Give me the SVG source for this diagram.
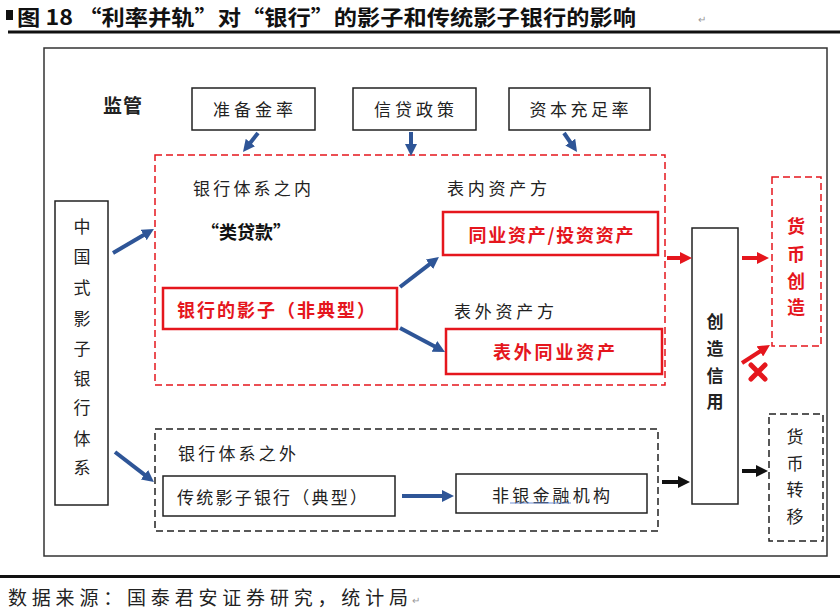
<svg xmlns="http://www.w3.org/2000/svg" width="840" height="612" viewBox="0 0 840 612">
<style>
text{font-family:"Noto Sans CJK SC","Noto Sans",sans-serif;dominant-baseline:central;}
.t{font-size:17px;fill:#222;}
.b{font-weight:bold;}
.red{fill:#E5161D;font-weight:bold;font-size:18px;}
.box{fill:#fff;stroke:#222;stroke-width:1.5;}
.rbox{fill:#fff;stroke:#E5161D;stroke-width:2.5;}
.rdash{fill:none;stroke:#E5161D;stroke-width:1.5;stroke-dasharray:7 4;}
.kdash{fill:none;stroke:#222;stroke-width:1.5;stroke-dasharray:7 4;}
.blue{stroke:#2E5597;stroke-width:4;fill:none;marker-end:url(#ab);}
.redl{stroke:#E5161D;stroke-width:4;fill:none;marker-end:url(#ar);}
.blk{stroke:#111;stroke-width:4;fill:none;marker-end:url(#ak);}
.mc{text-anchor:middle;}
</style>
<defs>
<marker id="ab" viewBox="0 0 10 10" markerUnits="userSpaceOnUse" markerWidth="12" markerHeight="12" refX="3" refY="5" orient="auto"><path d="M0,0 L10,5 L0,10 z" fill="#2E5597"/></marker>
<marker id="ar" viewBox="0 0 10 10" markerUnits="userSpaceOnUse" markerWidth="12" markerHeight="12" refX="3" refY="5" orient="auto"><path d="M0,0 L10,5 L0,10 z" fill="#E5161D"/></marker>
<marker id="ak" viewBox="0 0 10 10" markerUnits="userSpaceOnUse" markerWidth="12" markerHeight="12" refX="3" refY="5" orient="auto"><path d="M0,0 L10,5 L0,10 z" fill="#111"/></marker>
</defs>
<rect width="840" height="612" fill="#fff"/>
<!-- title -->
<rect x="6" y="10" width="7" height="10" fill="#111"/>
<text x="17" y="16" class="b" font-size="21" fill="#111" textLength="619" lengthAdjust="spacingAndGlyphs">图 18 “利率并轨”对“银行”的影子和传统影子银行的影响</text>
<text x="698" y="18" font-size="10" fill="#999">↵</text>
<rect x="8" y="30.5" width="832" height="3" fill="#111"/>
<!-- outer frame -->
<rect x="44" y="48" width="783" height="508" fill="none" stroke="#333" stroke-width="1.5"/>
<!-- regulators -->
<g id="jianguan"><text x="103" y="104" class="b" font-size="19" fill="#222" textLength="39">监管</text></g>
<g id="zhunbeijin"><rect class="box" x="192" y="88" width="123" height="42"/><text class="t mc" x="253" y="108" textLength="80">准备金率</text></g>
<g id="xindai"><rect class="box" x="353" y="88" width="123" height="42"/><text class="t mc" x="414" y="108" textLength="80">信贷政策</text></g>
<g id="ziben"><rect class="box" x="509" y="88" width="141" height="42"/><text class="t mc" x="579" y="108" textLength="99">资本充足率</text></g>
<!-- inside banking -->
<g id="inside"><rect class="rdash" x="155" y="155" width="510" height="230"/>
<text class="t" x="193" y="187" textLength="118">银行体系之内</text>
<text class="t" x="447" y="187" textLength="100">表内资产方</text>
<text class="t" x="454" y="310" textLength="100">表外资产方</text>
<text x="201" y="231" class="b" font-size="18" fill="#111">“类贷款”</text></g>
<g id="tongye"><rect class="rbox" x="443" y="212" width="215" height="43"/><text class="red mc" x="551" y="234" textLength="165">同业资产/投资资产</text></g>
<g id="yingzi"><rect class="rbox" x="163" y="288" width="234" height="41"/><text class="red mc" x="276" y="309" textLength="198">银行的影子（非典型）</text></g>
<g id="biaowai"><rect class="rbox" x="446" y="329" width="216" height="45"/><text class="red mc" x="554" y="351" textLength="122">表外同业资产</text></g>
<!-- left -->
<g id="zhongguo"><rect class="box" x="55" y="201" width="53" height="304"/>
<text class="t mc" x="82" y="225">中</text><text class="t mc" x="82" y="255">国</text><text class="t mc" x="82" y="286">式</text><text class="t mc" x="82" y="317">影</text><text class="t mc" x="82" y="347">子</text><text class="t mc" x="82" y="377">银</text><text class="t mc" x="82" y="406">行</text><text class="t mc" x="82" y="437">体</text><text class="t mc" x="82" y="466">系</text></g>
<!-- outside banking -->
<g id="outside"><rect class="kdash" x="155" y="429" width="503" height="102"/>
<text class="t" x="178" y="452" textLength="118">银行体系之外</text></g>
<g id="chuantong"><rect class="box" x="163" y="476" width="232" height="40"/><text class="t" x="177" y="496" textLength="190">传统影子银行（典型）</text></g>
<g id="feiyin"><rect class="box" x="456" y="474" width="191" height="39"/><text class="t mc" x="551" y="494" textLength="118">非银金融机构</text><line x1="510" y1="503" x2="571" y2="503" stroke="#6f8fd6" stroke-width="1.2"/></g>
<!-- credit -->
<g id="chuangzao"><rect class="box" x="692" y="228" width="46" height="276"/>
<text class="t b mc" x="715" y="320" font-size="18">创</text><text class="t b mc" x="715" y="347" font-size="18">造</text><text class="t b mc" x="715" y="374" font-size="18">信</text><text class="t b mc" x="715" y="400" font-size="18">用</text></g>
<g id="huobichuangzao"><rect class="rdash" x="772" y="177" width="49" height="169"/>
<text class="red mc" x="796" y="225">货</text><text class="red mc" x="796" y="253">币</text><text class="red mc" x="796" y="280">创</text><text class="red mc" x="796" y="306">造</text></g>
<g id="huobizhuanyi"><rect class="kdash" x="769" y="414" width="54" height="127"/>
<text class="t mc" x="795" y="435">货</text><text class="t mc" x="795" y="462">币</text><text class="t mc" x="795" y="488">转</text><text class="t mc" x="795" y="515">移</text></g>
<!-- connectors -->
<g id="connectors">
<path class="blue" d="M258,133 L248.2,145.4"/>
<path class="blue" d="M411,132 L411,147.6"/>
<path class="blue" d="M564,133 L572.3,145.1"/>
<path class="blue" d="M113,253 L146.7,233.2"/>
<path class="blue" d="M115,452 L147.3,476.9"/>
<path class="blue" d="M400,287 L432.3,262.1"/>
<path class="blue" d="M400,328 L437.6,348.1"/>
<path class="blue" d="M402,496 L445.6,496"/>
<path class="redl" d="M667,258 L683.6,258"/>
<path class="redl" d="M742,258 L760.6,258"/>
<path class="redl" d="M742,363 L762.9,349.5"/>
<path class="blk" d="M662,482 L681.6,482"/>
<path class="blk" d="M742,471 L759.6,471"/>
<path d="M751,365 L765,379 M765,365 L751,379" stroke="#E5161D" stroke-width="5" stroke-linecap="round"/>
</g>
<!-- footer -->
<rect x="0" y="575" width="840" height="3" fill="#111"/>
<text x="8" y="596" font-size="19" fill="#222" textLength="400">数据来源：国泰君安证券研究，统计局</text>
<text x="412" y="599" font-size="10" fill="#999">↵</text>
</svg>
